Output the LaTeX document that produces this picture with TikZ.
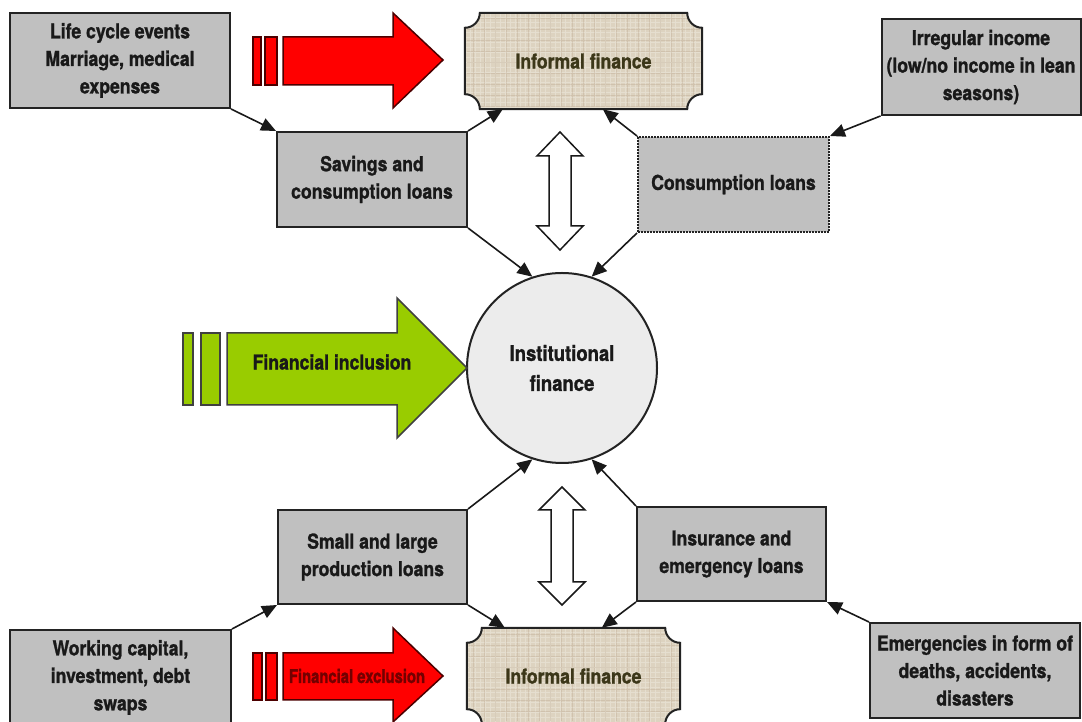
\documentclass[tikz,border=0pt]{standalone}
\usepackage{fontspec}
\setmainfont{TeX Gyre Heros}[FakeStretch=0.86, BoldFeatures={FakeBold=1.2}]
\newfontfamily\exclfont{TeX Gyre Heros}[FakeStretch=0.78, BoldFeatures={FakeBold=1.4}]
\usetikzlibrary{arrows.meta,backgrounds}
\definecolor{boxgray}{RGB}{192,192,192}
\definecolor{edge}{RGB}{35,35,35}
\definecolor{plaquefill}{RGB}{221,211,192}
\definecolor{plaquetext}{RGB}{60,55,25}
\definecolor{circfill}{RGB}{236,236,236}
\definecolor{redarrow}{RGB}{255,0,0}
\definecolor{greenarrow}{RGB}{153,204,0}
\definecolor{excltext}{RGB}{115,0,0}
\begin{document}
\begin{tikzpicture}[x=1pt,y=1pt,
  txt/.style={font=\bfseries\fontsize{20.5}{27.5}\selectfont, align=center, text=black!90},
  graybox/.style={txt, draw=edge, line width=2pt, fill=boxgray, inner sep=0pt},
  plaquearea/.style={txt, text=plaquetext, inner sep=0pt},
  plaqueshape/.style={fill=plaquefill, draw=edge, line width=2pt,
    path picture={
      \draw[white, opacity=0.25, line width=0.7pt, step=5pt]
        (path picture bounding box.south west) grid (path picture bounding box.north east);
      \draw[black!40!brown, opacity=0.12, line width=0.5pt, step=11pt]
        ([shift={(2pt,3pt)}]path picture bounding box.south west) grid (path picture bounding box.north east);}},
  conn/.style={draw=black!90, line width=1.6pt, -{Triangle[length=15pt,width=13pt]}},
  redblock/.style={fill=redarrow, draw=black!70!red, line width=1.5pt},
  greenblock/.style={fill=greenarrow, draw=black!75, line width=1.5pt},
  dblarrow/.style={fill=white, draw=black!90, line width=1.5pt}
]
\useasboundingbox (0,0) rectangle (1082,722);

% nodes
\node[graybox, minimum width=220, minimum height=95] (life) at (120,661.5) {Life cycle events\\Marriage, medical\\expenses};
\node[plaquearea, minimum width=237, minimum height=96] (inf1) at (583.5,661) {Informal finance};
\node[graybox, minimum width=199, minimum height=96] (irr) at (981,655) {Irregular income\\(low/no income in lean\\seasons)};
\node[graybox, minimum width=190, minimum height=95] (sav) at (372,542.5) {Savings and\\consumption loans};
\node[graybox, densely dotted, minimum width=191, minimum height=95] (cons) at (733.5,537.5) {Consumption loans};
\node[circle, draw=edge, line width=2pt, fill=circfill, minimum size=190, inner sep=0pt,
      font=\bfseries\fontsize{21.5}{30}\selectfont, align=center, text=black!90] (inst) at (562,354) {Institutional\\finance};
\node[graybox, minimum width=189, minimum height=94] (small) at (372.5,165) {Small and large\\production loans};
\node[graybox, minimum width=189, minimum height=94] (ins) at (731.5,168) {Insurance and\\emergency loans};
\node[graybox, minimum width=221, minimum height=95] (work) at (120.5,44.5) {Working capital,\\investment, debt\\swaps};
\node[graybox, minimum width=210, minimum height=95] (emerg) at (975,51.5) {Emergencies in form of\\deaths, accidents,\\disasters};
\node[plaquearea, minimum width=213, minimum height=96] (inf2) at (573.5,46) {Informal finance};

% background and plaques
\begin{scope}[on background layer]
\fill[white] (0,0) rectangle (1082,722);
\foreach \n in {inf1,inf2}{
  \draw[plaqueshape] ([xshift=15pt]\n.north west) -- ([xshift=-15pt]\n.north east)
    arc[start angle=180,end angle=270,radius=15pt] -- ([yshift=15pt]\n.south east)
    arc[start angle=90,end angle=180,radius=15pt] -- ([xshift=15pt]\n.south west)
    arc[start angle=0,end angle=90,radius=15pt] -- ([yshift=-15pt]\n.north west)
    arc[start angle=270,end angle=360,radius=15pt] -- cycle;
}
\end{scope}

% block arrows
\draw[redblock] (253,637) rectangle (261,685);
\draw[redblock] (265,637) rectangle (277,685);
\draw[redblock] (283,685) -- (393,685) -- (393,709) -- (443,662) -- (393,614) -- (393,637) -- (283,637) -- cycle;

\draw[greenblock] (183,317) rectangle (193,389);
\draw[greenblock] (201,317) rectangle (220,389);
\draw[greenblock] (227,389) -- (397,389) -- (397,424) -- (467,354) -- (397,284) -- (397,317) -- (227,317) -- cycle;
\node[txt] (incl) at (332,360) {Financial inclusion};

\draw[redblock] (253,22) rectangle (262,69);
\draw[redblock] (266,22) rectangle (277,69);
\draw[redblock] (283,69) -- (393,69) -- (393,94) -- (443,46) -- (393,0) -- (393,22) -- (283,22) -- cycle;
\node[font=\exclfont\bfseries\fontsize{19}{22}\selectfont, text=excltext] (excl) at (357,46) {Financial exclusion};

% double arrows
\draw[dblarrow] (560,590) -- (583,566) -- (571,566) -- (571,496) -- (583,496) -- (560,472) -- (537,496) -- (549,496) -- (549,566) -- (537,566) -- cycle;
\draw[dblarrow] (562,235) -- (585,212) -- (573,212) -- (573,140) -- (585,140) -- (562,117) -- (539,140) -- (551,140) -- (551,212) -- (539,212) -- cycle;

% connectors
\draw[conn] (life.south east) -- (sav.north west);
\draw[conn] (sav.north east) -- ([xshift=38pt]inf1.south west);
\draw[conn] (sav.south east) -- (inst.108);
\draw[conn] (cons.north west) -- ([xshift=138pt]inf1.south west);
\draw[conn] (cons.south west) -- (inst.72);
\draw[conn] (irr.south west) -- (cons.north east);
\draw[conn] (work.north east) -- (small.south west);
\draw[conn] (small.north east) -- (inst.252);
\draw[conn] (small.south east) -- ([xshift=38pt]inf2.north west);
\draw[conn] (ins.north west) -- (inst.288);
\draw[conn] (ins.south west) -- ([xshift=135pt]inf2.north west);
\draw[conn] (emerg.north west) -- (ins.south east);
\end{tikzpicture}
\end{document}
